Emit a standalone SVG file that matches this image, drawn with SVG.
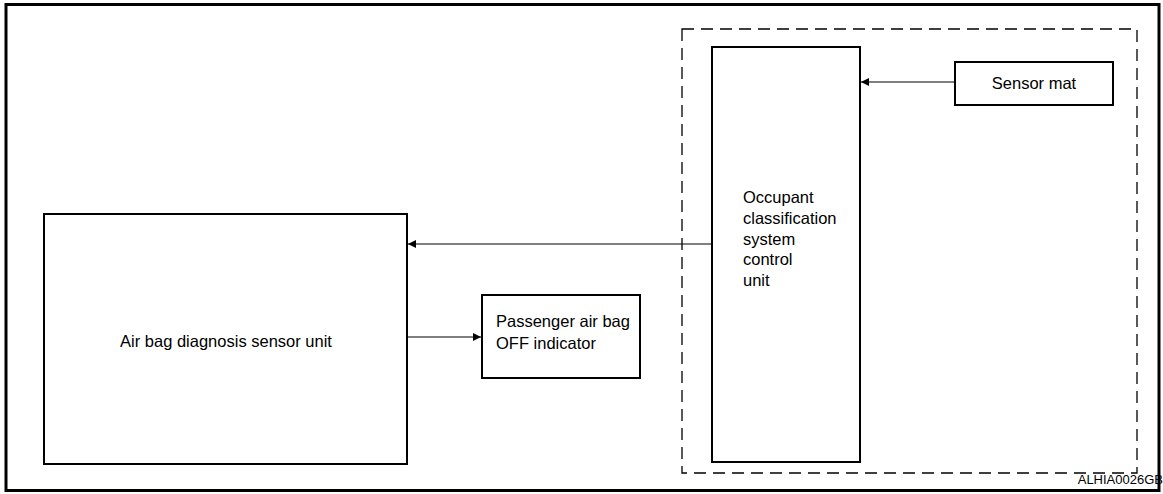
<svg xmlns="http://www.w3.org/2000/svg" width="1163" height="494" viewBox="0 0 1163 494">
<defs>
<marker id="ah" viewBox="0 0 10 10" refX="10" refY="5" markerWidth="10" markerHeight="8" markerUnits="userSpaceOnUse" orient="auto">
<path d="M0,0 L10,5 L0,10 z" fill="#000"/>
</marker>
<style>
.box{fill:#fff;stroke:#000;stroke-width:2}
.t{font-family:"Liberation Sans",Arial,sans-serif;font-size:16.5px;fill:#000}
.c{stroke:#000;stroke-width:1;fill:none;marker-end:url(#ah)}
</style>
</defs>
<rect width="1163" height="494" fill="#fff"/>
<rect x="6" y="4.5" width="1153" height="486" fill="none" stroke="#000" stroke-width="3"/>
<rect x="682" y="29" width="455" height="444" fill="none" stroke="#000" stroke-width="1.3" stroke-dasharray="12,7"/>
<g id="ocscu">
<rect class="box" x="712" y="47" width="148" height="415"/>
<text class="t" x="743" y="203">Occupant</text>
<text class="t" x="743" y="224">classification</text>
<text class="t" x="743" y="245">system</text>
<text class="t" x="743" y="265">control</text>
<text class="t" x="743" y="286">unit</text>
</g>
<g id="sensor-mat">
<rect class="box" x="955" y="62" width="158" height="43"/>
<text class="t" x="1034" y="89" text-anchor="middle">Sensor mat</text>
</g>
<g id="airbag-unit">
<rect class="box" x="44" y="214" width="363" height="250"/>
<text class="t" x="226" y="347" text-anchor="middle">Air bag diagnosis sensor unit</text>
</g>
<g id="indicator">
<rect class="box" x="482" y="295" width="158" height="83"/>
<text class="t" x="496" y="327">Passenger air bag</text>
<text class="t" x="496" y="349">OFF indicator</text>
</g>
<g id="connectors">
<line class="c" x1="955" y1="82" x2="861" y2="82"/>
<line class="c" x1="712" y1="244" x2="408" y2="244"/>
<line class="c" x1="407" y1="337" x2="481" y2="337"/>
</g>
<text x="1163" y="484" text-anchor="end" font-family="Liberation Sans,Arial,sans-serif" font-size="13">ALHIA0026GB</text>
</svg>
